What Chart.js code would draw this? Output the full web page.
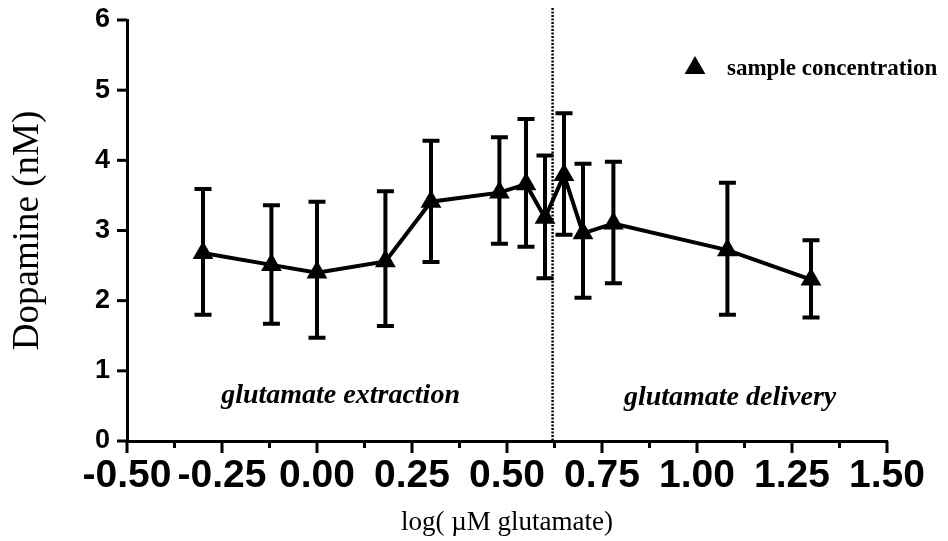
<!DOCTYPE html>
<html><head><meta charset="utf-8">
<script src="https://cdn.jsdelivr.net/npm/chart.js@4.4.0/dist/chart.umd.min.js"></script>
<style>html,body{margin:0;padding:0;background:#fff;}</style>
</head><body>
<canvas id="c" width="948" height="541"></canvas>
<script>
// ---- data ----
const xValues   = [-0.30, -0.12, 0.00, 0.18, 0.30, 0.48, 0.55, 0.60, 0.65, 0.70, 0.78, 1.08, 1.30];
const yValues   = [ 2.68,  2.51, 2.40, 2.56, 3.41, 3.54, 3.66, 3.18, 3.79, 2.96, 3.10, 2.72, 2.30];
const errUpper  = [ 3.59,  3.36, 3.41, 3.56, 4.28, 4.33, 4.59, 4.07, 4.67, 3.95, 3.98, 3.68, 2.86];
const errLower  = [ 1.80,  1.67, 1.47, 1.64, 2.55, 2.81, 2.77, 2.32, 2.94, 2.04, 2.25, 1.80, 1.76];
const xTickLabels = ['-0.50', '-0.25', '0.00', '0.25', '0.50', '0.75', '1.00', '1.25', '1.50'];
const yTickLabels = ['0', '1', '2', '3', '4', '5', '6'];
const dividerX = 0.62;
const dividerTop = 6.17;
const regionLabels = ['glutamate extraction', 'glutamate delivery'];
const regionLabelX = [0.062, 1.087];
const regionLabelY = [0.64, 0.62];
const seriesName = 'sample concentration';
const xTitle = 'log( \u00B5M glutamate)';
const yTitle = 'Dopamine (nM)';

const points = xValues.map((x, i) => ({x: x, y: yValues[i]}));

const extrasPlugin = {
  id: 'extras',
  beforeDatasetsDraw(chart) {
    const ctx = chart.ctx, xs = chart.scales.x, ys = chart.scales.y;
    ctx.save();
    // error bars
    ctx.strokeStyle = '#000';
    ctx.lineWidth = 4;
    ctx.lineCap = 'butt';
    xValues.forEach((xv, i) => {
      const px = xs.getPixelForValue(xv);
      const pt = ys.getPixelForValue(errUpper[i]);
      const pb = ys.getPixelForValue(errLower[i]);
      ctx.beginPath();
      ctx.moveTo(px, pt); ctx.lineTo(px, pb);
      ctx.moveTo(px - 8.5, pt); ctx.lineTo(px + 8.5, pt);
      ctx.moveTo(px - 8.5, pb); ctx.lineTo(px + 8.5, pb);
      ctx.stroke();
    });
    ctx.restore();
  },
  afterDraw(chart) {
    const ctx = chart.ctx, xs = chart.scales.x, ys = chart.scales.y;
    const area = chart.chartArea;
    ctx.save();
    ctx.strokeStyle = '#000';
    // divider (dotted)
    const dx = xs.getPixelForValue(dividerX);
    ctx.lineWidth = 2.5;
    ctx.setLineDash([2, 1.5]);
    ctx.beginPath();
    ctx.moveTo(dx, ys.getPixelForValue(dividerTop));
    ctx.lineTo(dx, ys.getPixelForValue(0));
    ctx.stroke();
    ctx.setLineDash([]);
    ctx.lineWidth = 3;
    // x ticks: major every 0.25, minor every 0.125
    for (let k = 0; k <= 16; k++) {
      const v = xs.min + k * 0.125;
      const px = xs.getPixelForValue(v);
      const len = (k % 2 === 0) ? 12 : 7;
      ctx.beginPath();
      ctx.moveTo(px, area.bottom);
      ctx.lineTo(px, area.bottom + len);
      ctx.stroke();
    }
    // y ticks
    for (let k = 0; k <= 6; k++) {
      const py = ys.getPixelForValue(k);
      ctx.beginPath();
      ctx.moveTo(area.left - 10, py);
      ctx.lineTo(area.left, py);
      ctx.stroke();
    }
    // region labels
    ctx.fillStyle = '#000';
    ctx.font = 'italic bold 28px "Liberation Serif", serif';
    ctx.textAlign = 'center';
    ctx.textBaseline = 'middle';
    regionLabels.forEach((t, i) => {
      ctx.fillText(t, xs.getPixelForValue(regionLabelX[i]), ys.getPixelForValue(regionLabelY[i]));
    });
    // legend
    const lx = area.right - 192, ly = area.top + 48;
    ctx.beginPath();
    const r = 12;
    ctx.moveTo(lx, ly - r);
    ctx.lineTo(lx + r * 0.866, ly + r * 0.5);
    ctx.lineTo(lx - r * 0.866, ly + r * 0.5);
    ctx.closePath();
    ctx.fill();
    ctx.font = 'bold 23px "Liberation Serif", serif';
    ctx.textAlign = 'left';
    ctx.fillText(seriesName, lx + 32, ly + 1);
    ctx.restore();
  }
};

new Chart(document.getElementById('c'), {
  type: 'scatter',
  data: {
    datasets: [{
      label: seriesName,
      data: points,
      showLine: true,
      borderColor: '#000',
      backgroundColor: '#000',
      borderWidth: 4,
      pointStyle: 'triangle',
      pointRadius: 12,
      pointBorderWidth: 0,
      pointBackgroundColor: '#000'
    }]
  },
  options: {
    responsive: false,
    animation: false,
    devicePixelRatio: 1,
    layout: {padding: {left: 0, right: 61, top: 20, bottom: 0}},
    plugins: {legend: {display: false}, tooltip: {enabled: false}},
    scales: {
      x: {
        type: 'linear',
        min: -0.5, max: 1.5,
        afterFit(s) { s.height = 100; s.paddingLeft = 0; s.paddingRight = 0; },
        grid: {display: false, drawTicks: false},
        border: {display: true, color: '#000', width: 3},
        ticks: {
          stepSize: 0.25, autoSkip: false, maxRotation: 0, minRotation: 0,
          padding: 12, color: '#000',
          font: {family: '"Liberation Sans", Arial, sans-serif', size: 39, weight: 'bold'},
          callback: (v, i) => xTickLabels[i]
        },
        title: {
          display: true, text: xTitle, color: '#000',
          font: {family: '"Liberation Serif", serif', size: 27},
          padding: {top: 0, bottom: 2}
        }
      },
      y: {
        type: 'linear',
        min: 0, max: 6,
        afterFit(s) { s.width = 127; s.paddingTop = 0; s.paddingBottom = 0; },
        grid: {display: false, drawTicks: false},
        border: {display: true, color: '#000', width: 3},
        ticks: {
          stepSize: 1, padding: 17, color: '#000',
          font: {family: '"Liberation Sans", Arial, sans-serif', size: 27, weight: 'bold'},
          callback: (v, i) => yTickLabels[i]
        },
        title: {
          display: true, text: yTitle, color: '#000',
          font: {family: '"Liberation Serif", serif', size: 37},
          padding: {top: 6, bottom: 0}
        }
      }
    }
  },
  plugins: [extrasPlugin]
});
</script>
</body></html>
